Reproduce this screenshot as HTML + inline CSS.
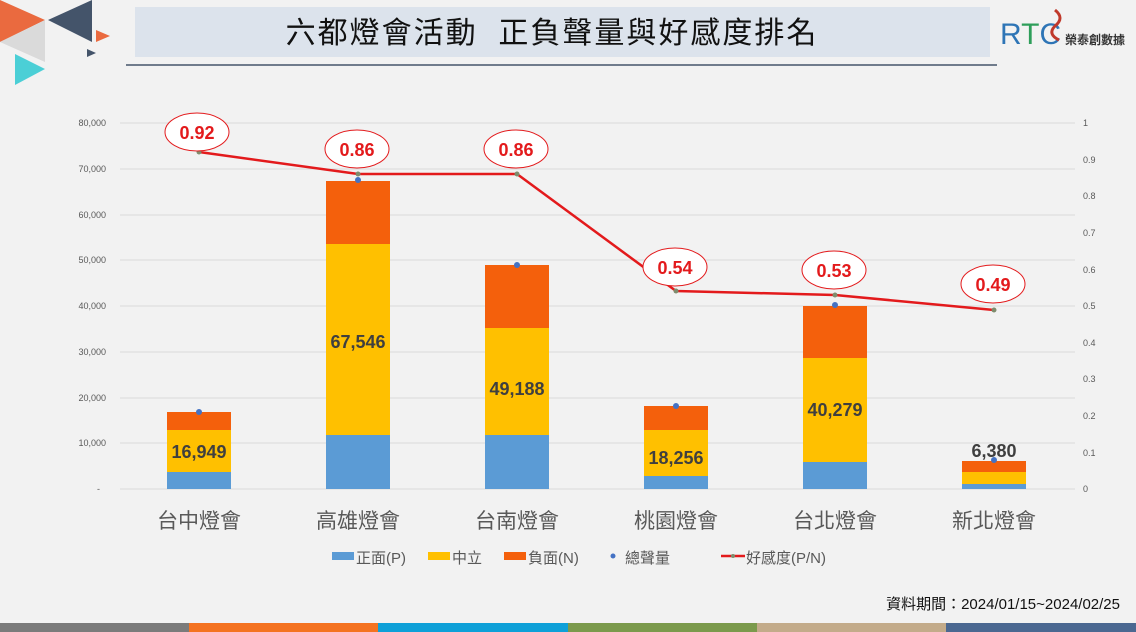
<!DOCTYPE html>
<html><head><meta charset="utf-8"><style>
html,body{margin:0;padding:0;background:#f2f2f2;}
svg{display:block;font-family:"Liberation Sans","Noto Sans CJK TC",sans-serif;}
</style></head><body>
<svg width="1136" height="632" viewBox="0 0 1136 632">
<rect width="1136" height="632" fill="#f2f2f2"/>
<polygon points="0,0 45,20 0,42" fill="#ea6a3f"/>
<polygon points="0,42 45,20 45,62" fill="#dadada"/>
<polygon points="48,20 92,0 92,42" fill="#44546a"/>
<polygon points="96,30 110,36 96,42" fill="#ea6a3f"/>
<polygon points="87,49 96,53 87,57" fill="#44546a"/>
<polygon points="15,54 45,69 15,85" fill="#4bcfd6"/>
<rect x="135" y="7" width="855" height="50" fill="#dce3ec"/>
<text x="552" y="43" font-size="30" text-anchor="middle" fill="#111" letter-spacing="2" xml:space="preserve">六都燈會活動  正負聲量與好感度排名</text>
<line x1="126" y1="65" x2="997" y2="65" stroke="#44546a" stroke-width="1.5"/>
<text x="1000" y="44" font-size="30" fill="#2e75b6" font-family="Liberation Sans">R<tspan fill="#2e9e5a">T</tspan><tspan fill="#2e75b6">C</tspan></text>
<path d="M1055,10 q10,8 0,16 q-8,8 4,14" stroke="#c0392b" stroke-width="3" fill="none"/>
<text x="1065" y="44" font-size="12" fill="#333" font-weight="bold">榮泰創數據</text>
<g stroke="#d9d9d9" stroke-width="1">
<line x1="120" y1="123" x2="1075" y2="123"/><line x1="120" y1="169" x2="1075" y2="169"/>
<line x1="120" y1="215" x2="1075" y2="215"/><line x1="120" y1="260" x2="1075" y2="260"/>
<line x1="120" y1="306" x2="1075" y2="306"/><line x1="120" y1="352" x2="1075" y2="352"/>
<line x1="120" y1="398" x2="1075" y2="398"/><line x1="120" y1="443" x2="1075" y2="443"/>
<line x1="120" y1="489" x2="1075" y2="489"/>
</g>
<g font-size="9" fill="#595959" text-anchor="end">
<text x="106" y="126">80,000</text><text x="106" y="172">70,000</text><text x="106" y="218">60,000</text>
<text x="106" y="263">50,000</text><text x="106" y="309">40,000</text><text x="106" y="355">30,000</text>
<text x="106" y="401">20,000</text><text x="106" y="446">10,000</text><text x="100" y="492">-</text>
</g>
<g font-size="9" fill="#595959">
<text x="1083" y="126">1</text><text x="1083" y="163">0.9</text><text x="1083" y="199">0.8</text>
<text x="1083" y="236">0.7</text><text x="1083" y="273">0.6</text><text x="1083" y="309">0.5</text>
<text x="1083" y="346">0.4</text><text x="1083" y="382">0.3</text><text x="1083" y="419">0.2</text>
<text x="1083" y="456">0.1</text><text x="1083" y="492">0</text>
</g>
<g>
<rect x="167" y="472" width="64" height="17" fill="#5b9bd5"/><rect x="167" y="430" width="64" height="42" fill="#ffc000"/><rect x="167" y="412" width="64" height="18" fill="#f4600c"/>
<rect x="326" y="435" width="64" height="54" fill="#5b9bd5"/><rect x="326" y="244" width="64" height="191" fill="#ffc000"/><rect x="326" y="181" width="64" height="63" fill="#f4600c"/>
<rect x="485" y="435" width="64" height="54" fill="#5b9bd5"/><rect x="485" y="328" width="64" height="107" fill="#ffc000"/><rect x="485" y="265" width="64" height="63" fill="#f4600c"/>
<rect x="644" y="476" width="64" height="13" fill="#5b9bd5"/><rect x="644" y="430" width="64" height="46" fill="#ffc000"/><rect x="644" y="406" width="64" height="24" fill="#f4600c"/>
<rect x="803" y="462" width="64" height="27" fill="#5b9bd5"/><rect x="803" y="358" width="64" height="104" fill="#ffc000"/><rect x="803" y="306" width="64" height="52" fill="#f4600c"/>
<rect x="962" y="484" width="64" height="5" fill="#5b9bd5"/><rect x="962" y="472" width="64" height="12" fill="#ffc000"/><rect x="962" y="461" width="64" height="11" fill="#f4600c"/>
</g>
<g font-size="18" font-weight="bold" fill="#3f3f3f" text-anchor="middle">
<text x="199" y="458">16,949</text><text x="358" y="348">67,546</text><text x="517" y="395">49,188</text>
<text x="676" y="464">18,256</text><text x="835" y="416">40,279</text><text x="994" y="457">6,380</text>
</g>
<g fill="#4472c4">
<circle cx="199" cy="412" r="3"/><circle cx="358" cy="180" r="3"/><circle cx="517" cy="265" r="3"/>
<circle cx="676" cy="406" r="3"/><circle cx="835" cy="305" r="3"/><circle cx="994" cy="460" r="3"/>
</g>
<polyline points="199,152 358,174 517,174 676,291 835,295 994,310" fill="none" stroke="#e31a1c" stroke-width="2.5"/>
<g fill="#7f8c6d"><circle cx="199" cy="152" r="2.5"/><circle cx="358" cy="174" r="2.5"/><circle cx="517" cy="174" r="2.5"/><circle cx="676" cy="291" r="2.5"/><circle cx="835" cy="295" r="2.5"/><circle cx="994" cy="310" r="2.5"/></g>
<g fill="#fff" stroke="#e31a1c" stroke-width="1">
<ellipse cx="197" cy="132" rx="32" ry="19"/><ellipse cx="357" cy="149" rx="32" ry="19"/><ellipse cx="516" cy="149" rx="32" ry="19"/>
<ellipse cx="675" cy="267" rx="32" ry="19"/><ellipse cx="834" cy="270" rx="32" ry="19"/><ellipse cx="993" cy="284" rx="32" ry="19"/>
</g>
<g font-size="18" font-weight="bold" fill="#e31a1c" text-anchor="middle">
<text x="197" y="139">0.92</text><text x="357" y="156">0.86</text><text x="516" y="156">0.86</text>
<text x="675" y="274">0.54</text><text x="834" y="277">0.53</text><text x="993" y="291">0.49</text>
</g>
<g font-size="21" fill="#595959" text-anchor="middle">
<text x="199" y="528">台中燈會</text><text x="358" y="528">高雄燈會</text><text x="517" y="528">台南燈會</text>
<text x="676" y="528">桃園燈會</text><text x="835" y="528">台北燈會</text><text x="994" y="528">新北燈會</text>
</g>
<g font-size="15" fill="#595959">
<rect x="332" y="552" width="22" height="8" fill="#5b9bd5"/><text x="356" y="563">正面(P)</text>
<rect x="428" y="552" width="22" height="8" fill="#ffc000"/><text x="452" y="563">中立</text>
<rect x="504" y="552" width="22" height="8" fill="#f4600c"/><text x="528" y="563">負面(N)</text>
<circle cx="613" cy="556" r="2.5" fill="#4472c4"/><text x="625" y="563">總聲量</text>
<line x1="721" y1="556" x2="745" y2="556" stroke="#e31a1c" stroke-width="2.5"/><circle cx="733" cy="556" r="2" fill="#7f8c6d"/>
<text x="746" y="563">好感度(P/N)</text>
</g>
<text x="1120" y="609" font-size="15" fill="#111" text-anchor="end">資料期間：2024/01/15~2024/02/25</text>
<rect x="0" y="623" width="189" height="9" fill="#7b7b7b"/>
<rect x="189" y="623" width="189" height="9" fill="#f47321"/>
<rect x="378" y="623" width="190" height="9" fill="#0ea0d8"/>
<rect x="568" y="623" width="189" height="9" fill="#7b9a4c"/>
<rect x="757" y="623" width="189" height="9" fill="#c3ab8a"/>
<rect x="946" y="623" width="190" height="9" fill="#4b6891"/>
</svg>
</body></html>
